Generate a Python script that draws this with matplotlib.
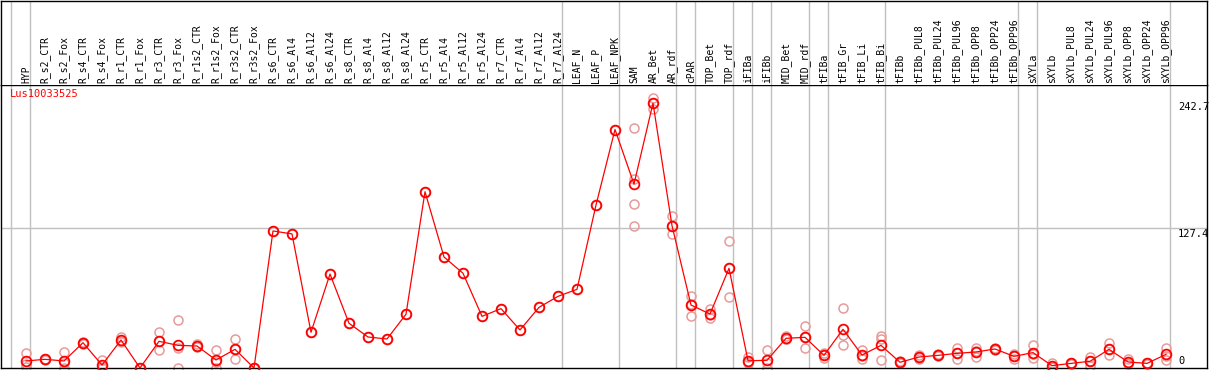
import matplotlib
matplotlib.use('Agg')
import matplotlib.pyplot as plt

# sample names (x axis, one column each)
samples = ['HYP', 'R_s2_CTR', 'R_s2_Fox', 'R_s4_CTR', 'R_s4_Fox', 'R_r1_CTR', 'R_r1_Fox',
           'R_r3_CTR', 'R_r3_Fox', 'R_r1s2_CTR', 'R_r1s2_Fox', 'R_r3s2_CTR', 'R_r3s2_Fox',
           'R_s6_CTR', 'R_s6_Al4', 'R_s6_Al12', 'R_s6_Al24', 'R_s8_CTR', 'R_s8_Al4', 'R_s8_Al12',
           'R_s8_Al24', 'R_r5_CTR', 'R_r5_Al4', 'R_r5_Al12', 'R_r5_Al24', 'R_r7_CTR', 'R_r7_Al4',
           'R_r7_Al12', 'R_r7_Al24', 'LEAF_N', 'LEAF_P', 'LEAF_NPK', 'SAM', 'AR_Bet', 'AR_rdf',
           'cPAR', 'TOP_Bet', 'TOP_rdf', 'iFIBa', 'iFIBb', 'MID_Bet', 'MID_rdf', 'tFIBa',
           'tFIB_Gr', 'tFIB_Li', 'tFIB_Bi', 'tFIBb', 'tFIBb_PUL8', 'tFIBb_PUL24', 'tFIBb_PUL96',
           'tFIBb_OPP8', 'tFIBb_OPP24', 'tFIBb_OPP96', 'sXYLa', 'sXYLb', 'sXYLb_PUL8',
           'sXYLb_PUL24', 'sXYLb_PUL96', 'sXYLb_OPP8', 'sXYLb_OPP24', 'sXYLb_OPP96']

# mean expression per sample
means = [6.4, 7.9, 6.4, 23, 2.7, 25.5, 0, 24.3, 20.6, 20, 7.3, 17, 0,
         124.7, 122, 32.5, 85.5, 40.7, 28.2, 26.4, 48.9, 160.4, 101, 86.2, 47,
         54, 34.6, 55.2, 65.2, 71.6, 148.3, 217, 167.4, 241, 129.5,
         57.3, 49.1, 90.7, 6.6, 7, 27, 27.9, 11.5, 35.2, 11.8, 20.6,
         5.2, 10, 11.5, 13.3, 14.6, 17.3, 10.6, 14, 2.1, 4.2, 6.1, 17, 5.5, 4.2, 12.4]

# individual replicates per sample
replicates = [[13.4, 4, 1], [8.5, 7.5, 7.8], [14.3, 5, 0], [24, 22, 23], [7.3, 1, 0],
              [27.9, 24, 25], [0, 0, 0], [32.5, 24.3, 16.4], [43.7, 18, 0], [21.5, 19, 20],
              [16.4, 5.5, 0], [26, 17, 8], [0, 0, 0],
              [124.7], [122], [32.5], [85.5], [40.7], [28.2], [26.4], [48.9], [160.4], [101],
              [86.2], [47], [54], [34.6], [55.2], [65.2], [71.6], [148.3], [217],
              [218, 172, 149, 129], [246, 236, 241], [138.3, 121.9, 129],
              [65.5, 47.6, 58], [54, 45.8, 48], [115.8, 64.3, 91], [9.7, 4.8, 5.5],
              [16.1, 0, 5], [29, 26, 26], [37.9, 17.9, 28], [14, 8.8, 11.5],
              [54.3, 30, 20.6], [16.4, 7.9, 11], [29.4, 26.7, 7.3],
              [5.2, 4.5, 6], [11.8, 8.5, 10], [11.5, 10.5, 12.5], [18.5, 8.2, 13.3],
              [17.9, 10.3, 15.5], [17.3, 16.5, 18], [12.7, 8.2, 11], [20.6, 9.1, 12.3],
              [4.8, 1, 0.5], [4.2, 3.5, 5], [10.3, 2, 6], [22.4, 11.8, 17],
              [7.9, 3.5, 5], [4.2, 3.5, 5], [18.5, 7.3, 11]]

# last sample index of each tissue group (a separator follows it)
group_ends = [-1, 0, 28, 31, 34, 35, 37, 38, 39, 41, 42, 45, 52, 53, 60]

y_ticks = [0, 127.4, 242.7]
gene = 'Lus10033525'

W, H = 1209, 370
mono = 'DejaVu Sans Mono'
red = '#ff0000'
pink = '#e89a9a'
grey = '#c0c0c0'

fig = plt.figure(figsize=(W / 100, H / 100), dpi=100)

# plot area (pixel rows 85..368)
ax = fig.add_axes([1 / W, (H - 368) / H, 1206 / W, 283 / H])
ax.set_xlim((1 - 26) / 19, (1207 - 26) / 19)
ax.set_ylim(0, 283 / 1.099)
ax.set_xticks([])
ax.set_yticks([])
for s in ax.spines.values():
    s.set_color('black')
    s.set_linewidth(1)

# header with the sample labels
hdr = fig.add_axes([1 / W, (H - 85) / H, 1206 / W, 84.5 / H])
hdr.set_xlim(ax.get_xlim())
hdr.set_ylim(0, 1)
hdr.set_xticks([])
hdr.set_yticks([])
hdr.spines['bottom'].set_visible(False)
for s in ['top', 'left', 'right']:
    hdr.spines[s].set_color('black')
    hdr.spines[s].set_linewidth(1)

for g in group_ends:
    ax.axvline(g + 0.21, color=grey, lw=1, zorder=0)
    hdr.axvline(g + 0.21, color=grey, lw=1, zorder=0)

ax.axhline(y_ticks[1], color=grey, lw=1, zorder=0)

for i, name in enumerate(samples):
    hdr.text(i, 0.025, name, rotation=90, ha='center', va='bottom',
             family=mono, fontsize=7, color='black')

# replicates
for i, reps in enumerate(replicates):
    ax.plot([i] * len(reps), reps, linestyle='none', marker='o', ms=6.5,
            mfc='none', mec=pink, mew=1.1, clip_on=False, zorder=2)

# means
ax.plot(range(len(means)), means, color=red, lw=0.9, marker='o', ms=7,
        mfc='none', mec=red, mew=1.3, clip_on=False, zorder=3)

ax.text(9 / 1206, 0.985, gene, transform=ax.transAxes, ha='left', va='top',
        family=mono, fontsize=7.5, color=red)

xr = (1178 - 1) / 1206
for v in y_ticks[1:]:
    ax.text(xr, v - 0.8, f'{v:.1f}', transform=ax.get_yaxis_transform(),
            ha='left', va='top', family=mono, fontsize=7.5, color='black')
ax.text(xr, 2, '0', transform=ax.get_yaxis_transform(),
        ha='left', va='bottom', family=mono, fontsize=7.5, color='black')

fig.savefig('out.png', dpi=100)
